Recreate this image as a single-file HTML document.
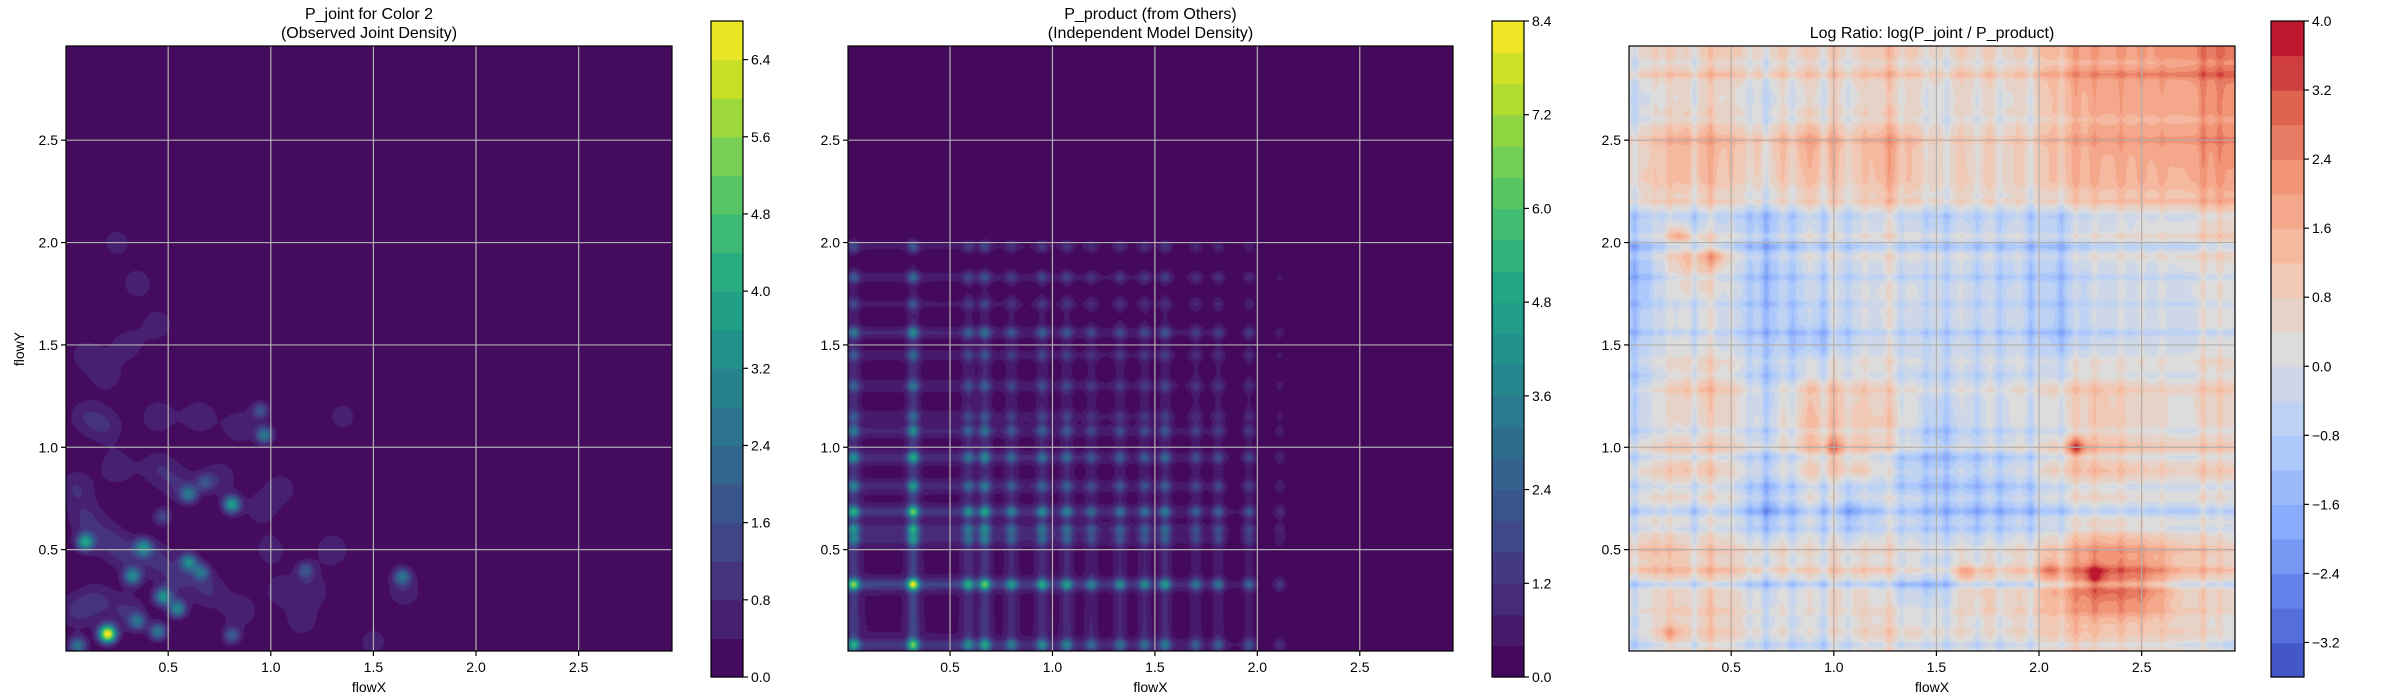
<!DOCTYPE html>
<html><head><meta charset="utf-8">
<style>
html,body{margin:0;padding:0;background:#fff;}
#root{position:relative;width:2400px;height:700px;overflow:hidden;font-family:"Liberation Sans",sans-serif;}
canvas{position:absolute;}
svg{position:absolute;left:0;top:0;}
</style></head>
<body>
<div id="root">
<canvas id="c0"></canvas>
<canvas id="c1"></canvas>
<canvas id="c2"></canvas>
<svg id="ov" width="2400" height="700"></svg>
</div>
<script>
// ---------- data ----------
const xTicks = [0.5, 1.0, 1.5, 2.0, 2.5];
const yTicks = [0.5, 1.0, 1.5, 2.0, 2.5];
const jointLevels = {min: 0, max: 6.8, step: 0.4};
const jointCbTicks = [0.0, 0.8, 1.6, 2.4, 3.2, 4.0, 4.8, 5.6, 6.4];
const productLevels = {min: 0, max: 8.4, step: 0.4};
const productCbTicks = [0.0, 1.2, 2.4, 3.6, 4.8, 6.0, 7.2, 8.4];
const ratioLevels = {min: -3.6, max: 4.0, step: 0.4};
const ratioCbTicks = [-3.2, -2.4, -1.6, -0.8, 0.0, 0.8, 1.6, 2.4, 3.2, 4.0];

const peakX = [0.205,0.096,0.38,0.326,0.35,0.475,0.545,0.60,0.66,0.81,0.60,0.97,0.06,0.45,0.81,1.17,1.64,0.95,0.68,0.47];
const peakY = [0.088,0.537,0.51,0.37,0.15,0.27,0.21,0.44,0.39,0.72,0.77,1.06,0.03,0.10,0.08,0.40,0.37,1.18,0.83,0.66];
const peakAmp = [6.8,3.6,3.0,3.0,2.2,3.2,3.0,3.0,2.2,3.6,2.4,2.6,2.6,2.6,1.8,1.6,2.2,1.6,1.4,1.4];
const haloX = [0.05,0.1,0.2,0.3,0.45,0.55,0.7,0.85,0.3,0.15,0.05,0.25,0.45,0.55,0.75,0.85,0.65,0.45,0.2,0.1,0.2,0.1,0.3,0.45,0.35,0.25,1.3,1.2,1.0,1.05,1.15,1.5,1.65,1.35,1.05,0.95];
const haloY = [0.8,0.65,0.55,0.48,0.45,0.35,0.30,0.2,0.2,0.25,0.2,0.9,0.9,0.82,0.85,1.1,1.15,1.15,1.1,1.15,1.35,1.45,1.5,1.6,1.8,2.0,0.5,0.3,0.5,0.8,0.15,0.05,0.3,1.15,0.3,0.7];
const haloAmp = [0.8,0.8,0.8,0.8,0.8,0.8,0.8,0.7,0.8,0.8,0.8,0.7,0.7,0.7,0.7,0.7,0.7,0.7,0.7,0.7,0.6,0.6,0.6,0.6,0.6,0.55,0.7,0.7,0.6,0.6,0.6,0.55,0.7,0.55,0.6,0.6];

const fxBase = [0.62,0.6,0.58,0.52,0.48,0.42,0.38,0.28,0.1,0.02,0,0,0];
const fyBase = [0.68,0.6,0.58,0.55,0.48,0.42,0.35,0.2,0.08,0.03,0,0,0];
const fxPeakPos = [0.03,0.32,0.59,0.67,0.80,0.95,1.07,1.19,1.33,1.45,1.55,1.70,1.81,1.96,2.11];
const fxPeakAmp = [1.8,2.3,1.3,1.7,1.1,1.3,1.2,0.85,1.0,1.0,1.25,0.85,0.9,0.85,0.4];
const fyPeakPos = [0.035,0.33,0.55,0.60,0.685,0.81,0.95,1.08,1.15,1.3,1.45,1.56,1.7,1.83,1.98];
const fyPeakAmp = [1.6,2.3,1.0,1.25,1.7,1.05,1.3,1.0,0.6,0.75,0.65,1.1,0.55,0.85,0.7];

const ratioGrid = [
 [0.2,0.4,0.4,0.3,0.4,0.3,0.6,0.2,0.4,0.3,1.0,1.2,1.2,1.4,1.8],
 [-0.3,0.2,0,-0.3,0,0,0.2,0,0.1,0,0.8,1.0,1.0,1.0,1.4],
 [0.3,1.0,0.6,0.4,1.0,0.5,1.0,0.2,0.3,0.3,0.8,1.0,1.0,1.1,1.4],
 [0.4,0.8,0.5,0.3,0.7,0.4,0.9,0.3,0.4,0.3,0.8,0.9,0.9,0.9,1.2],
 [-0.6,-0.4,-0.6,-0.9,-0.4,-0.4,-0.2,-0.6,-0.5,-0.5,-0.7,-0.3,-0.2,-0.2,0.2],
 [-1.0,0.9,-0.2,-1.0,-0.3,-0.4,-0.2,-0.3,-0.5,-0.6,-0.8,-0.3,-0.3,-0.2,0],
 [-0.8,0,-0.4,-0.9,-0.5,-0.3,-0.1,-0.3,-0.4,-0.5,-0.8,-0.4,-0.3,-0.3,-0.1],
 [-0.6,0,-0.4,-0.8,-1.0,-0.5,-0.3,-0.5,-0.5,-0.5,-0.9,-0.5,-0.4,-0.3,-0.2],
 [-0.5,0.6,0.2,-0.7,0.4,0.3,0,-0.4,-0.3,-0.2,0.2,0.4,0.1,0,0.3],
 [-0.3,0.2,0.1,-0.3,0.8,0.5,0.4,-0.8,-0.3,-0.2,0,0.5,0.2,0,0.2],
 [0,0.6,0,-0.6,0.3,0.4,-0.6,-0.9,-0.7,-0.5,0.4,0.6,0.3,0.2,0.3],
 [-0.3,-0.3,-0.4,-1.3,-0.4,-1.2,-0.4,-0.9,-1.0,-0.9,-0.5,-0.3,-0.5,-0.5,-0.4],
 [0.5,0.4,0.2,0,0,0,0,-0.2,-0.2,0,0.6,1.2,1.0,0.5,0.2],
 [0,0.4,0.2,-0.3,0,0.2,-0.3,-0.6,0.5,0.2,1.2,2.0,1.8,0.4,0.2],
 [-0.2,0.4,0.2,-0.2,-0.3,0,0.2,0,-0.1,0,0.5,0.4,0.3,0.2,-0.2]
];
const ratioGain = 1.35;
const ratioOffset = 0.3;
const ratioStripeX = [0.03,0.13,0.2,0.32,0.4,0.5,0.59,0.67,0.75,0.80,0.88,0.95,1.0,1.07,1.15,1.27,1.33,1.45,1.55,1.62,1.70,1.76,1.81,1.9,1.96,2.11,2.18,2.27,2.4,2.5,2.6,2.8,2.88];
const ratioStripeXAmp = [-0.7,0.3,0.4,-0.8,0.6,0.3,-0.5,-0.8,0.4,-0.5,0.3,-0.7,0.6,-0.5,0.3,0.6,-0.5,-0.5,-0.6,0.3,-0.5,0.3,-0.5,0.3,-0.7,-0.6,0.5,0.4,0.4,0.3,0.3,0.6,0.4];
const ratioStripeY = [0.035,0.1,0.2,0.33,0.4,0.5,0.60,0.685,0.75,0.81,0.88,0.95,1.0,1.08,1.28,1.35,1.42,1.56,1.7,1.83,1.93,1.98,2.03,2.13,2.2,2.5,2.6,2.82,2.88];
const ratioStripeYAmp = [-0.6,0.3,0.3,-1.1,0.7,0.4,-0.5,-0.7,0.4,-0.5,0.3,-0.6,0.5,-0.5,0.4,-0.4,0.3,-0.6,-0.4,-0.5,0.4,-0.7,0.5,-0.5,0.5,0.5,-0.4,0.6,-0.4];
const hotX = [2.18,2.27,0.24,0.20,1.00,0.42,1.65,2.05];
const hotY = [1.00,0.37,2.04,0.09,1.00,1.93,0.38,0.40];
const hotAmp = [2.0,1.2,1.2,1.1,1.1,1.0,1.0,0.9];

// ---------- layout ----------
const panels = [
 {l:66,r:672,t:46,b:651,cb:{l:711,r:743,t:21,b:677}},
 {l:848,r:1453,t:46,b:651,cb:{l:1492,r:1524,t:21,b:677}},
 {l:1629,r:2235,t:46,b:651,cb:{l:2271,r:2304,t:21,b:677}}
];
const XMIN=0.002, XMAX=2.955, YMIN=0.005, YMAX=2.96;
function sx(p,v){return p.l+(v-XMIN)/(XMAX-XMIN)*(p.r-p.l);}
function sy(p,v){return p.b-(v-YMIN)/(YMAX-YMIN)*(p.b-p.t);}

const viridisStops=[[68,1,84],[72,36,117],[65,68,135],[53,95,141],[42,120,142],[33,145,140],[34,168,132],[68,191,112],[122,209,81],[189,223,38],[253,231,37]];
const coolwarmStops=[[59,76,192],[98,130,234],[141,176,254],[184,208,249],[221,220,220],[245,196,173],[244,154,123],[222,96,77],[180,4,38]];
function cmap(stops,t){t=Math.max(0,Math.min(1,t));const n=stops.length-1;const f=t*n;const i=Math.min(n-1,Math.floor(f));const u=f-i;
 return stops[i].map((c,k)=>Math.round(c+(stops[i+1][k]-c)*u));}
function bandColors(lv,stops){const n=Math.round((lv.max-lv.min)/lv.step);const out=[];
 for(let i=0;i<n;i++){const mid=lv.min+(i+0.5)*lv.step;out.push(cmap(stops,(mid-lv.min)/(lv.max-lv.min)));}return out;}

function g(d2,s){return Math.exp(-d2/(2*s*s));}
function jointVal(x,y){let v=0;
 for(let i=0;i<peakX.length;i++){const dx=x-peakX[i],dy=y-peakY[i];v+=peakAmp[i]*g(dx*dx+dy*dy,0.03);}
 for(let i=0;i<haloX.length;i++){const dx=x-haloX[i],dy=y-haloY[i];v+=haloAmp[i]*g(dx*dx+dy*dy,0.065);}
 return v;}
function interp1(arr,v,step){const f=v/step;const i=Math.max(0,Math.min(arr.length-2,Math.floor(f)));const u=Math.max(0,Math.min(1,f-i));return arr[i]+(arr[i+1]-arr[i])*u;}
function marg(base,pos,amp,v){let s=interp1(base,v,0.25);for(let i=0;i<pos.length;i++){const d=v-pos[i];s+=amp[i]*g(d*d,0.02);}return s;}
function ratioVal(x,y){
 const n=ratioGrid.length;
 let fx=(x-0.1)/0.2, fy=(2.9-y)/0.2;
 fx=Math.max(0,Math.min(n-1.0001,fx)); fy=Math.max(0,Math.min(n-1.0001,fy));
 const i=Math.floor(fy), j=Math.floor(fx), u=fx-j, w=fy-i;
 let v=ratioGrid[i][j]*(1-u)*(1-w)+ratioGrid[i][j+1]*u*(1-w)+ratioGrid[i+1][j]*(1-u)*w+ratioGrid[i+1][j+1]*u*w;
 v=v*ratioGain+ratioOffset;
 for(let k=0;k<ratioStripeX.length;k++){const d=x-ratioStripeX[k];v+=ratioStripeXAmp[k]*g(d*d,0.013);}
 for(let k=0;k<ratioStripeY.length;k++){const d=y-ratioStripeY[k];v+=ratioStripeYAmp[k]*g(d*d,0.013);}
 for(let k=0;k<hotX.length;k++){const dx=x-hotX[k],dy=y-hotY[k];v+=hotAmp[k]*g(dx*dx+dy*dy,0.035);}
 return v;}

function renderField(id,p,lv,stops,fn){
 const c=document.getElementById(id);const w=p.r-p.l,h=p.b-p.t;
 c.width=w;c.height=h;c.style.left=p.l+'px';c.style.top=p.t+'px';
 const ctx=c.getContext('2d');const img=ctx.createImageData(w,h);const cols=bandColors(lv,stops);
 for(let j=0;j<h;j++){const y=YMAX-(j+0.5)/h*(YMAX-YMIN);
  for(let i=0;i<w;i++){const x=XMIN+(i+0.5)/w*(XMAX-XMIN);
   const v=fn(x,y);let b=Math.floor((v-lv.min)/lv.step);b=Math.max(0,Math.min(cols.length-1,b));
   const o=(j*w+i)*4;img.data[o]=cols[b][0];img.data[o+1]=cols[b][1];img.data[o+2]=cols[b][2];img.data[o+3]=255;}}
 ctx.putImageData(img,0,0);}

renderField('c0',panels[0],jointLevels,viridisStops,jointVal);
renderField('c1',panels[1],productLevels,viridisStops,(x,y)=>marg(fxBase,fxPeakPos,fxPeakAmp,x)*marg(fyBase,fyPeakPos,fyPeakAmp,y));
renderField('c2',panels[2],ratioLevels,coolwarmStops,ratioVal);

const NS='http://www.w3.org/2000/svg';const ov=document.getElementById('ov');
function el(tag,attrs,parent){const e=document.createElementNS(NS,tag);for(const k in attrs)e.setAttribute(k,attrs[k]);(parent||ov).appendChild(e);return e;}
function txt(s,x,y,anchor,size,parent){const t=el('text',{x:x,y:y,'text-anchor':anchor,'font-size':size,'font-family':'Liberation Sans, sans-serif',fill:'#000'},parent);t.textContent=s;return t;}
function fmt(v){return (v<0?'\u2212':'')+Math.abs(v).toFixed(1);}

const titles=[['P_joint for Color 2','(Observed Joint Density)'],['P_product (from Others)','(Independent Model Density)'],['Log Ratio: log(P_joint / P_product)']];
const cbLevels=[jointLevels,productLevels,ratioLevels];
const cbTicks=[jointCbTicks,productCbTicks,ratioCbTicks];
const cbStops=[viridisStops,viridisStops,coolwarmStops];

panels.forEach((p,pi)=>{
 const grp=el('g',{});
 
 
 xTicks.forEach(v=>{const X=sx(p,v);
  const gl=el('line',{x1:X,x2:X,y1:p.t,y2:p.b,stroke:'#b0b0b0','stroke-width':1.2},grp);
  
  
  el('line',{x1:X,x2:X,y1:p.b,y2:p.b+5,stroke:'#000','stroke-width':1.2},grp);
  const t=txt(v.toFixed(1),X,p.b+21,'middle',14,grp);
  
  });
 yTicks.forEach(v=>{const Y=sy(p,v);
  const gl=el('line',{x1:p.l,x2:p.r,y1:Y,y2:Y,stroke:'#b0b0b0','stroke-width':1.2},grp);
  
  
  el('line',{x1:p.l-5,x2:p.l,y1:Y,y2:Y,stroke:'#000','stroke-width':1.2},grp);
  const t=txt(v.toFixed(1),p.l-8,Y+5,'end',14,grp);
  
  });
 const fr=el('rect',{x:p.l,y:p.t,width:p.r-p.l,height:p.b-p.t,fill:'none',stroke:'#000','stroke-width':1.2},grp);
 
 
 const xl=txt('flowX',(p.l+p.r)/2,692,'middle',14,grp);
 
 
 const tl=titles[pi];const cx=(p.l+p.r)/2;
 if(tl.length===2){const a=txt(tl[0],cx,19,'middle',16,grp);
  const b=txt(tl[1],cx,38,'middle',16,grp);}
 else{const a=txt(tl[0],cx,38,'middle',16,grp);}
 const cb=p.cb,lv=cbLevels[pi];const cols=bandColors(lv,cbStops[pi]);
 const cg=el('g',{},grp);
 
 
 const cy=v=>cb.b-(v-lv.min)/(lv.max-lv.min)*(cb.b-cb.t);
 cols.forEach((c,i)=>{const y1=cy(lv.min+(i+1)*lv.step),y0=cy(lv.min+i*lv.step);
  const r=el('rect',{x:cb.l,y:y1,width:cb.r-cb.l,height:y0-y1+0.6,fill:'rgb('+c.join(',')+')'},cg);
  
  });
 el('rect',{x:cb.l,y:cb.t,width:cb.r-cb.l,height:cb.b-cb.t,fill:'none',stroke:'#000','stroke-width':1.2},cg);
 cbTicks[pi].forEach(v=>{const Y=cy(v);
  el('line',{x1:cb.r,x2:cb.r+5,y1:Y,y2:Y,stroke:'#000','stroke-width':1.2},cg);
  const t=txt(fmt(v),cb.r+8,Y+5,'start',14,cg);
  
  });
});
const yl=txt('flowY',0,0,'middle',14);
yl.setAttribute('transform','translate(24,349) rotate(-90)');


</script>
</body></html>
